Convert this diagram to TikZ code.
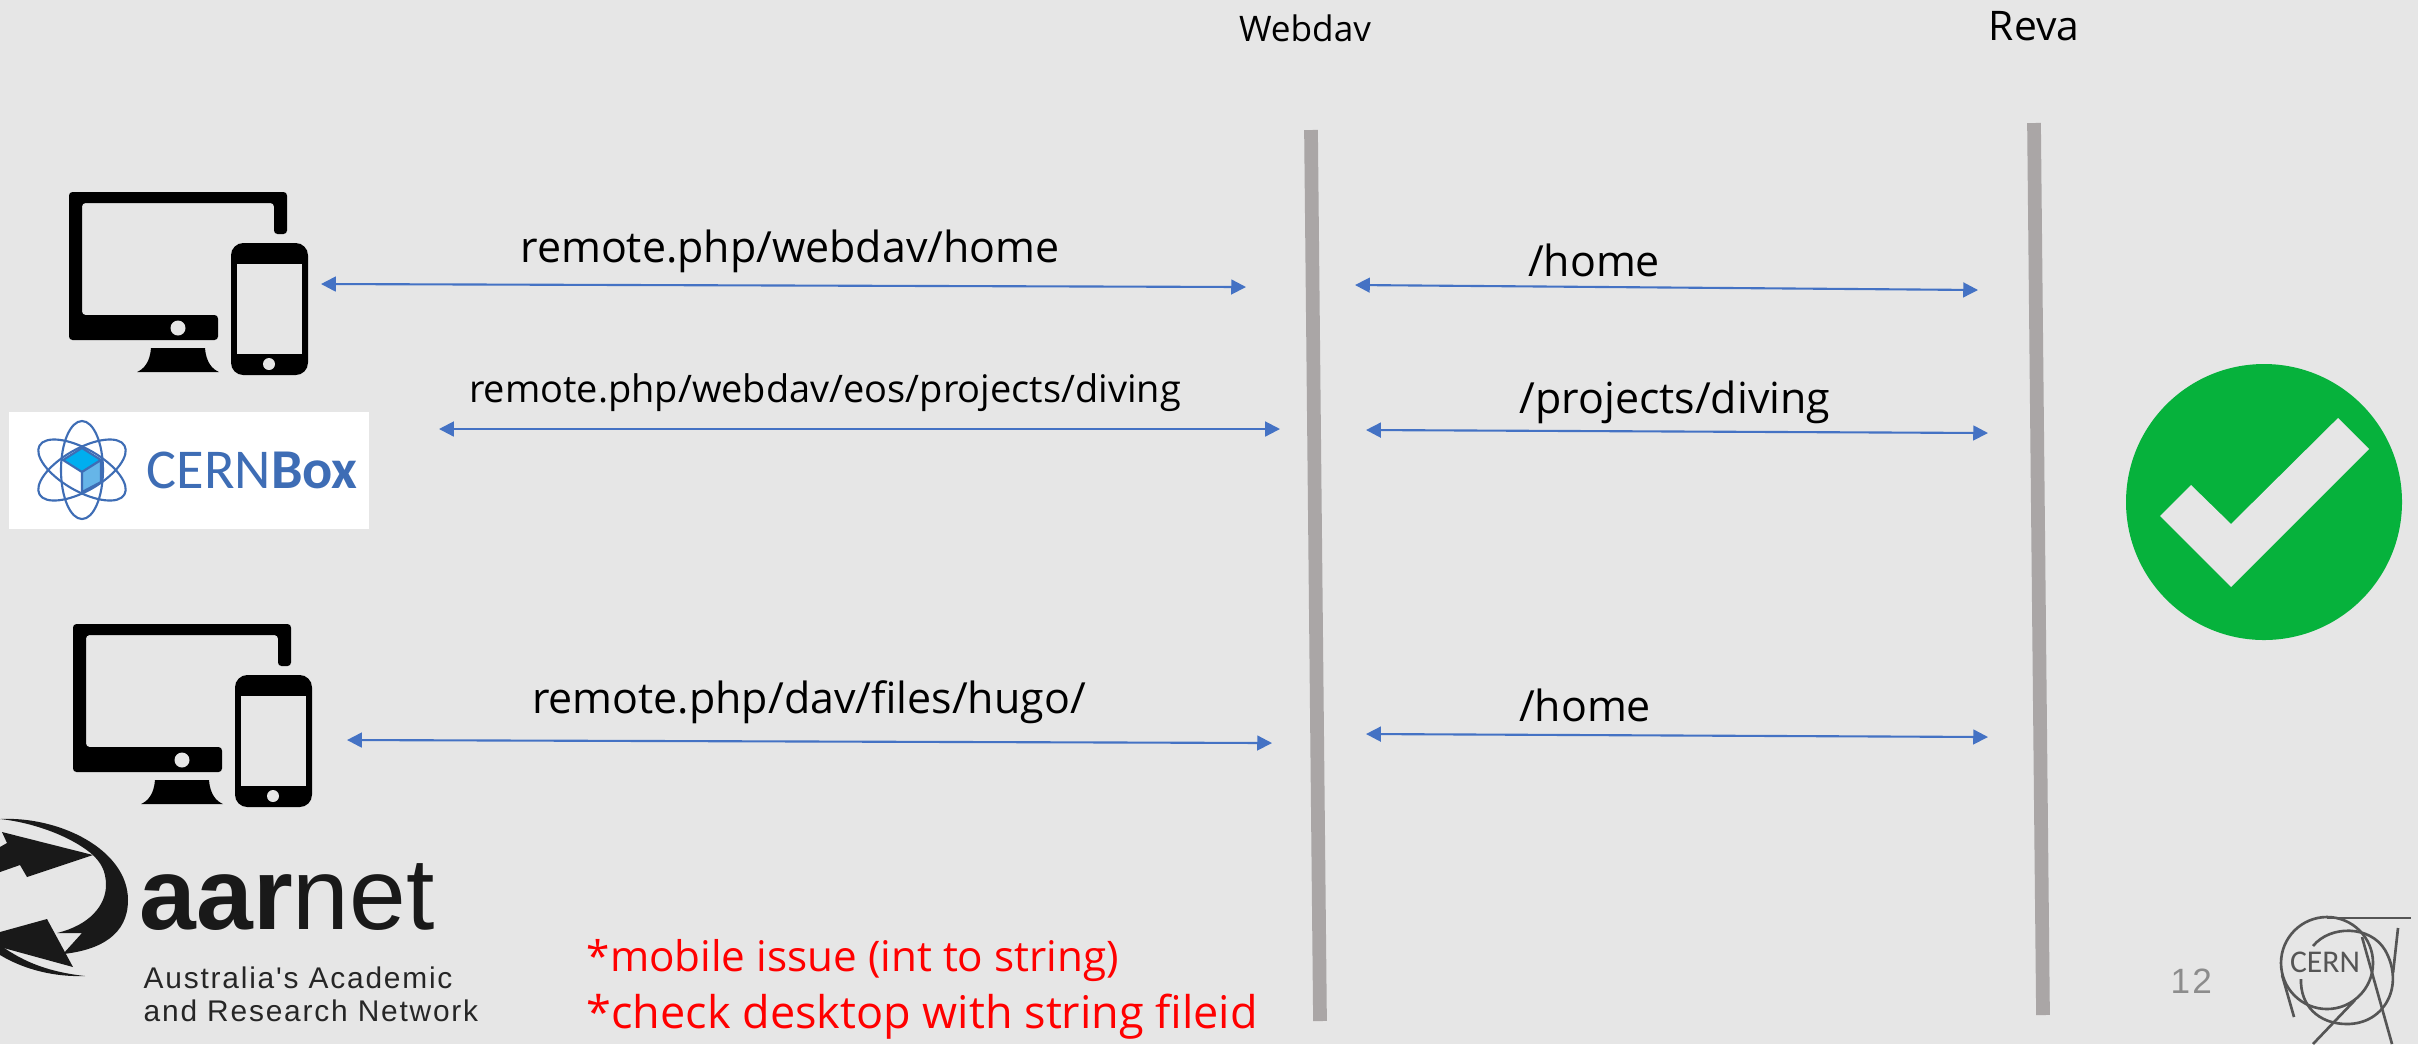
\documentclass[tikz,border=0pt]{standalone}
\usepackage{fontspec}
\setmainfont{Open Sans}
\newfontfamily\logofont{Carlito}
\newfontfamily\aarfont{Liberation Sans}
\newfontfamily\aarsub[LetterSpace=6]{Liberation Sans}
\usetikzlibrary{arrows.meta}
\definecolor{slidegray}{HTML}{E6E6E6}
\definecolor{arrowblue}{HTML}{4472C4}
\definecolor{boxblue}{HTML}{3E6DB5}
\definecolor{cubetop}{HTML}{00AEEF}
\definecolor{cubeside}{HTML}{66B5E8}
\definecolor{barcolor}{HTML}{AAA6A6}
\definecolor{okgreen}{HTML}{06B23C}
\definecolor{logogray}{HTML}{555555}
\tikzset{
  link/.style={arrowblue,line width=0.6pt,{Triangle[length=4.2pt,width=4.2pt]}-{Triangle[length=4.2pt,width=4.2pt]}},
  bar/.style={barcolor,line width=3.9pt},
  route/.style={inner sep=0pt,font=\fontsize{12.2pt}{16pt}\selectfont},
  head/.style={inner sep=0pt,font=\fontsize{11.6pt}{14pt}\selectfont},
  orbit/.style={draw=boxblue,line width=0.6pt},
  cernline/.style={draw=logogray,line width=0.75pt},
  devices/.pic={
    \fill[black,rounded corners=1pt] (0,0) -- (218,0) -- (218,42) -- (205,42) -- (205,11) -- (13,11) -- (13,123) -- (149,123) -- (149,148) -- (0,148) -- cycle;
    \fill[slidegray] (109,136) circle[radius=7.5];
    \fill[black] (82,156) -- (136,156) .. controls (137,170) and (143,177) .. (150,180) -- (68,180) .. controls (75,177) and (81,170) .. (82,156) -- cycle;
    \fill[black,rounded corners=3.5pt] (162,51) rectangle (239,183);
    \fill[slidegray] (168,72) rectangle (233,162);
    \fill[slidegray] (200,172) circle[radius=6];
  }
}
\begin{document}
\begin{tikzpicture}[x=0.01cm,y=-0.01cm]
\useasboundingbox (0,0) rectangle (2418,1044);
\clip (0,0) rectangle (2418,1044);
\fill[slidegray] (0,0) rectangle (2418,1044);

% lanes
\node[head,font=\fontsize{10pt}{14pt}\selectfont] (webdav) at (1305,28) {Webdav};
\node[head] (reva) at (2034,26) {Reva};
\coordinate (webdavtop) at (1311,130);
\coordinate (webdavbot) at (1320,1021);
\coordinate (revatop) at (2034,123);
\coordinate (revabot) at (2043,1015);
\draw[bar] (webdavtop) -- (webdavbot);
\draw[bar] (revatop) -- (revabot);

% client side
\coordinate (homeL) at (321,284);
\coordinate (homeR) at (1246,287);
\coordinate (eosL) at (439,429);
\coordinate (eosR) at (1280,429);
\coordinate (filesL) at (347,740);
\coordinate (filesR) at (1272,743);
\draw[link] (homeL) -- (homeR);
\draw[link] (eosL) -- (eosR);
\draw[link] (filesL) -- (filesR);
\node[route] (homelabel) at (790,251) {remote.php/webdav/home};
\node[route,font=\fontsize{10.8pt}{14pt}\selectfont] (eoslabel) at (825,393) {remote.php/webdav/eos/projects/diving};
\node[route] (fileslabel) at (809,702) {remote.php/dav/files/hugo/};

% reva side
\coordinate (revahomeL) at (1355,285);
\coordinate (revahomeR) at (1978,290);
\coordinate (projL) at (1366,430);
\coordinate (projR) at (1988,433);
\coordinate (lowerL) at (1366,734);
\coordinate (lowerR) at (1988,737);
\draw[link] (revahomeL) -- (revahomeR);
\draw[link] (projL) -- (projR);
\draw[link] (lowerL) -- (lowerR);
\node[route] (revahome) at (1594,260) {/home};
\node[route] (projlabel) at (1675,402) {/projects/diving};
\node[route] (lowerhome) at (1585,705) {/home};

% clients
\pic at (69,192) {devices};
\pic at (73,624) {devices};

% cernbox logo
\fill[white] (9,412) rectangle (369,529);
\draw[orbit] (82,470) ellipse[x radius=21,y radius=49];
\draw[orbit,rotate around={60:(82,470)}] (82,470) ellipse[x radius=21,y radius=49];
\draw[orbit,rotate around={-60:(82,470)}] (82,470) ellipse[x radius=21,y radius=49];
\draw[orbit,fill=cubetop] (82,448) -- (101,460) -- (82,472) -- (63,460) -- cycle;
\draw[orbit,fill=cubeside] (82,472) -- (101,460) -- (101,482) -- (82,492) -- cycle;
\node[inner sep=0pt,anchor=base west,text=boxblue,font=\logofont\fontsize{16pt}{20pt}\selectfont] (cernbox) at (146,488) {CERN\textbf{Box}};

% aarnet logo
\fill[black!90] (0,819) .. controls (60,816) and (128,850) .. (128,900) .. controls (128,935) and (100,950) .. (63,954) -- (82,933) -- (57,933) .. controls (90,925) and (106,905) .. (106,885) .. controls (106,870) and (100,862) .. (93,855) .. controls (70,835) and (30,822) .. (0,819) -- cycle;
\fill[black!90] (0,955) .. controls (25,970) and (55,977) .. (85,976) .. controls (50,972) and (25,963) .. (0,945) -- cycle;
\fill[black!90] (93,855) -- (2,832) -- (7,843) -- (0,847) -- (0,872) -- (20,865) -- (27,877) -- cycle;
\fill[black!90] (73,967) -- (47,919) -- (0,932) -- (0,947) -- cycle;
\node[inner sep=0pt,anchor=base west,text=black!90,font=\aarfont\fontsize{29pt}{30pt}\selectfont] (aarnet) at (139,929) {\textbf{aar}net};
\node[inner sep=0pt,anchor=base west,text=black!85,font=\aarsub\fontsize{8.5pt}{10pt}\selectfont] (aarline1) at (143,988) {Australia's Academic};
\node[inner sep=0pt,anchor=base west,text=black!85,font=\aarsub\fontsize{8.5pt}{10pt}\selectfont] (aarline2) at (143,1021) {and Research Network};

% notes
\node[inner sep=0pt,anchor=base west,text=red,font=\fontsize{12pt}{16pt}\selectfont] (note1) at (586,971) {*mobile issue (int to string)};
\node[inner sep=0pt,anchor=base west,text=red,font=\fontsize{12.8pt}{16pt}\selectfont] (note2) at (586,1028) {*check desktop with string fileid};

% tick
\fill[okgreen] (2264,502) circle[radius=138];
\fill[slidegray] (2160,516) -- (2191,485) -- (2231,524) -- (2338,418) -- (2369,449) -- (2231,587) -- cycle;

% page number and cern logo
\node[inner sep=0pt,anchor=base west,text=black!45,font=\aarsub\fontsize{10pt}{12pt}\selectfont] (pageno) at (2170,993) {12};
\draw[cernline] (2327,963) circle[radius=46];
\draw[cernline] (2327,918) -- (2411,918);
\draw[cernline] (2313,946) .. controls (2330,925) and (2370,925) .. (2385,950) .. controls (2405,985) and (2385,1024) .. (2347,1024) .. controls (2318,1024) and (2300,1005) .. (2301,979);
\draw[cernline] (2398,928) -- (2393,973);
\draw[cernline] (2362,937) -- (2392,1044);
\draw[cernline] (2355,1000) -- (2313,1044);
\draw[cernline] (2282,975) -- (2294,1017);
\node[inner sep=0pt,text=logogray,font=\logofont\fontsize{9pt}{10pt}\selectfont] (cernlogo) at (2325,962) {CERN};
\end{tikzpicture}
\end{document}
